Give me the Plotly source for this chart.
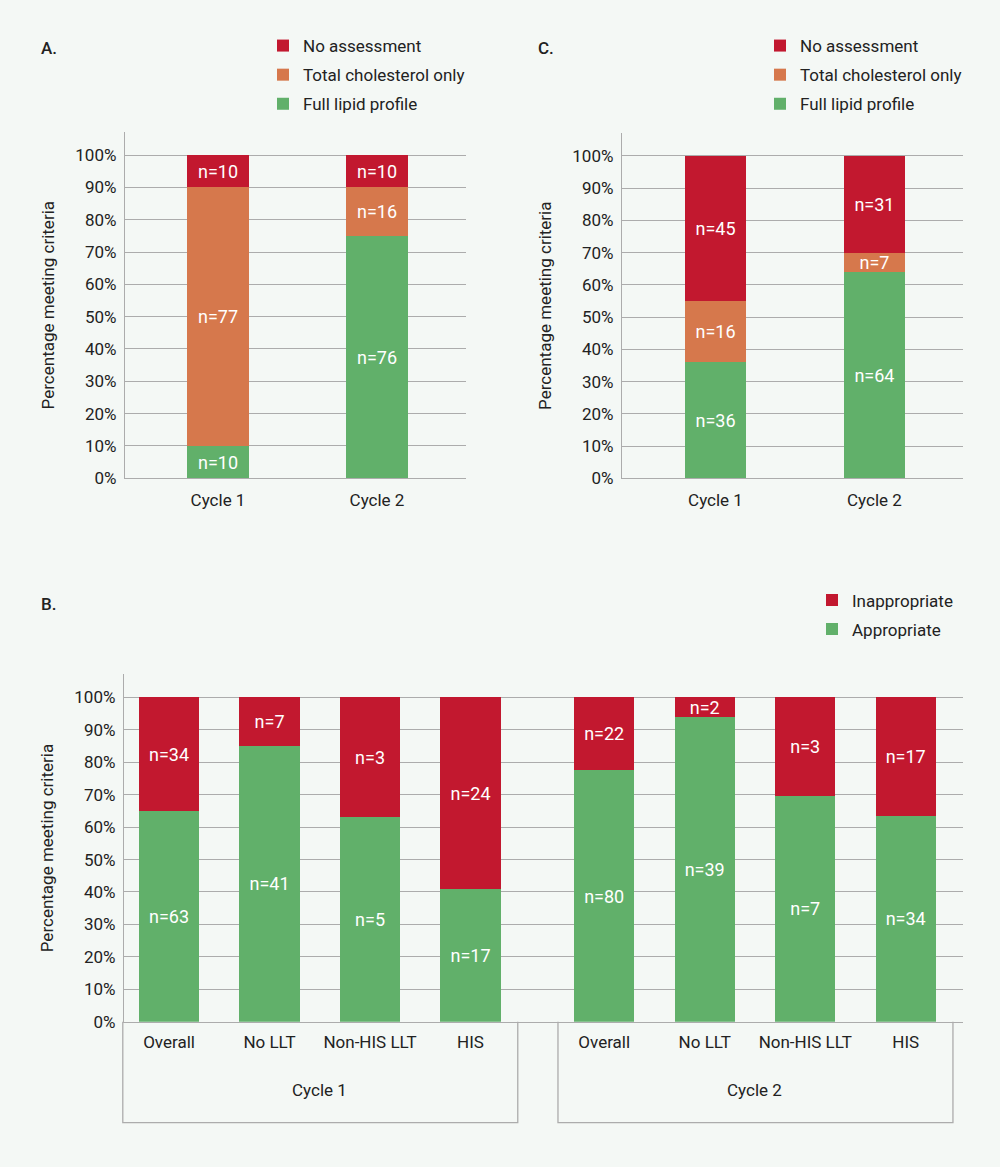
import plotly.graph_objects as go

# ---------------- data ----------------
# Panel A
a_cycles = ["Cycle 1", "Cycle 2"]
a_full_pct = [10, 75]
a_tc_pct = [80, 15]
a_none_pct = [10, 10]
a_full_n = ["n=10", "n=76"]
a_tc_n = ["n=77", "n=16"]
a_none_n = ["n=10", "n=10"]

# Panel C
c_cycles = ["Cycle 1", "Cycle 2"]
c_full_pct = [36, 64]
c_tc_pct = [19, 6]
c_none_pct = [45, 30]
c_full_n = ["n=36", "n=64"]
c_tc_n = ["n=16", "n=7"]
c_none_n = ["n=45", "n=31"]

# Panel B
b_groups = ["Overall", "No LLT", "Non-HIS LLT", "HIS"]
b_c1_app_pct = [65, 85, 63, 41]
b_c1_inapp_pct = [35, 15, 37, 59]
b_c2_app_pct = [77.5, 94, 69.5, 63.5]
b_c2_inapp_pct = [22.5, 6, 30.5, 36.5]
b_c1_app_n = ["n=63", "n=41", "n=5", "n=17"]
b_c1_inapp_n = ["n=34", "n=7", "n=3", "n=24"]
b_c2_app_n = ["n=80", "n=39", "n=7", "n=34"]
b_c2_inapp_n = ["n=22", "n=2", "n=3", "n=17"]

y_ticks = [0, 10, 20, 30, 40, 50, 60, 70, 80, 90, 100]
y_ticktext = [f"{v}%" for v in y_ticks]

# ---------------- style ----------------
RED = "#c2182f"
ORANGE = "#d6784c"
GREEN = "#61b06a"
BG = "#f4f8f5"
GRID = "#acacac"
TXT = "#222222"
FONT = "Roboto"
W, H = 1000, 1167
SY = 0.9908  # vertical compensation


def px_x(p):
    return p / W


def px_y(p):
    return 1 - (p / SY) / H


fig = go.Figure()


def add_bar(x, y, text, color, name, xa, ya, legend, width, group, rank):
    fig.add_trace(go.Bar(
        x=x, y=y, text=text, name=name,
        marker=dict(color=color, line=dict(width=0)),
        textposition="inside", insidetextanchor="middle",
        textfont=dict(color="white", size=18, family=FONT),
        constraintext="none", width=width,
        xaxis=xa, yaxis=ya, legend=legend, showlegend=True,
        legendgroup=group, legendrank=rank, hoverinfo="skip",
    ))


# Panel A (x/y)
a_x = list(range(len(a_cycles)))
add_bar(a_x, a_full_pct, a_full_n, GREEN, "Full lipid profile", "x", "y", "legend", 0.384, "a1", 3)
add_bar(a_x, a_tc_pct, a_tc_n, ORANGE, "Total cholesterol only", "x", "y", "legend", 0.384, "a2", 2)
add_bar(a_x, a_none_pct, a_none_n, RED, "No assessment", "x", "y", "legend", 0.384, "a3", 1)

# Panel C (x2/y2)
c_x = list(range(len(c_cycles)))
add_bar(c_x, c_full_pct, c_full_n, GREEN, "Full lipid profile", "x2", "y2", "legend2", 0.384, "c1", 3)
add_bar(c_x, c_tc_pct, c_tc_n, ORANGE, "Total cholesterol only", "x2", "y2", "legend2", 0.384, "c2", 2)
add_bar(c_x, c_none_pct, c_none_n, RED, "No assessment", "x2", "y2", "legend2", 0.384, "c3", 1)

# Panel B (x3/y3)
gap = 1.33
b_x1 = [i for i in range(len(b_groups))]
b_x2 = [len(b_groups) - 1 + gap + i for i in range(len(b_groups))]
b_x = b_x1 + b_x2
add_bar(b_x, b_c1_app_pct + b_c2_app_pct, b_c1_app_n + b_c2_app_n, GREEN, "Appropriate",
        "x3", "y3", "legend3", 0.6, "b1", 2)
add_bar(b_x, b_c1_inapp_pct + b_c2_inapp_pct, b_c1_inapp_n + b_c2_inapp_n, RED, "Inappropriate",
        "x3", "y3", "legend3", 0.6, "b2", 1)

yaxis_common = dict(
    range=[0, 107.1], tickvals=y_ticks, ticktext=y_ticktext,
    showgrid=True, gridcolor=GRID, gridwidth=1.3,
    showline=True, linecolor=GRID, linewidth=1.3,
    zeroline=False, ticks="", ticklabelstandoff=4,
    tickfont=dict(size=17, family=FONT, color=TXT),
    title=dict(text="Percentage meeting criteria", standoff=16,
               font=dict(size=17, family=FONT, color=TXT)),
)

xaxis_common = dict(
    showgrid=False, zeroline=False, showline=True, linecolor=GRID, linewidth=1.3,
    ticks="", tickfont=dict(size=17, family=FONT, color=TXT),
)

legend_common = dict(xanchor="left", yanchor="top", traceorder="grouped",
                     tracegroupgap=4, bgcolor="rgba(0,0,0,0)",
                     font=dict(size=17, family=FONT, color=TXT))

B_LEFT_PX, B_RIGHT_PX = 124, 963
B_RANGE = [-0.448, 7.9]

fig.update_layout(
    width=W, height=H,
    margin=dict(l=0, r=0, t=0, b=0),
    paper_bgcolor=BG, plot_bgcolor=BG,
    barmode="stack", showlegend=True,
    font=dict(family=FONT, color=TXT),
    xaxis=dict(**xaxis_common, domain=[px_x(125), px_x(466)], range=[-0.585, 1.56],
               tickvals=a_x, ticktext=a_cycles, ticklabelstandoff=6, anchor="y"),
    yaxis=dict(**yaxis_common, domain=[px_y(478), px_y(132)], anchor="x"),
    xaxis2=dict(**xaxis_common, domain=[px_x(622), px_x(963)], range=[-0.588, 1.557],
                tickvals=c_x, ticktext=c_cycles, ticklabelstandoff=6, anchor="y2"),
    yaxis2=dict(**yaxis_common, domain=[px_y(478), px_y(133)], anchor="x2"),
    xaxis3=dict(**xaxis_common, domain=[px_x(B_LEFT_PX), px_x(B_RIGHT_PX)], range=B_RANGE,
                tickvals=b_x, ticktext=b_groups + b_groups, ticklabelstandoff=5, anchor="y3"),
    yaxis3=dict(**yaxis_common, domain=[px_y(1021), px_y(674)], anchor="x3"),
    legend=dict(**legend_common, x=px_x(263), y=px_y(28)),
    legend2=dict(**legend_common, x=px_x(760), y=px_y(28)),
    legend3=dict(**legend_common, x=px_x(812), y=px_y(582)),
)

# panel letters
for letter, xp, yp in [("A.", 39, 48), ("C.", 536, 48), ("B.", 39, 604)]:
    fig.add_annotation(text=letter, x=px_x(xp), y=px_y(yp), xref="paper", yref="paper",
                       xanchor="left", yanchor="middle", showarrow=False,
                       font=dict(size=17, family=FONT, color=TXT, weight=500))


def b_data_to_paper(v):
    frac = (v - B_RANGE[0]) / (B_RANGE[1] - B_RANGE[0])
    return px_x(B_LEFT_PX + frac * (B_RIGHT_PX - B_LEFT_PX))


# group boxes for panel B
box_bottom = px_y(1122)
box_top = px_y(1021)
for xs, label in [(b_x1, "Cycle 1"), (b_x2, "Cycle 2")]:
    left = b_data_to_paper(xs[0] - 0.46)
    right = b_data_to_paper(xs[-1] + 0.47)
    fig.add_shape(type="path", xref="paper", yref="paper",
                  path=f"M {left},{box_top} L {left},{box_bottom} L {right},{box_bottom} L {right},{box_top}",
                  line=dict(color=GRID, width=1.3))
    fig.add_annotation(text=label, x=(xs[0] + xs[-1]) / 2, y=px_y(1089), xref="x3", yref="paper",
                       showarrow=False, xanchor="center", yanchor="middle",
                       font=dict(size=17, family=FONT, color=TXT))

fig.write_html("out.html")
